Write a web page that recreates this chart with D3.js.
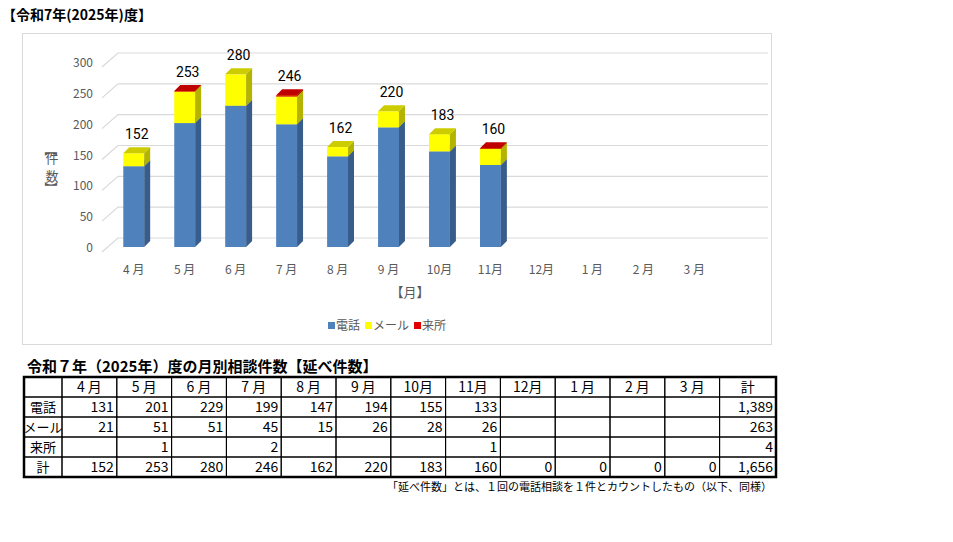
<!DOCTYPE html>
<html><head><meta charset="utf-8">
<script src="https://cdn.jsdelivr.net/npm/d3@7"></script>
<style>body{margin:0;background:#fff;font-family:"Noto Sans CJK JP",sans-serif}</style>
</head><body>
<svg id="c" width="953" height="542"></svg>
<script>
// data
const months = ["4月","5月","6月","7月","8月","9月","10月","11月","12月","1月","2月","3月"];
const tel = [131,201,229,199,147,194,155,133,null,null,null,null];
const mail = [21,51,51,45,15,26,28,26,null,null,null,null];
const visit = [null,1,null,2,null,null,null,1,null,null,null,null];
const totals = [152,253,280,246,162,220,183,160,0,0,0,0];
const sums = ["1,389","263","4","1,656"];
const yTicks = [0,50,100,150,200,250,300];
const seriesNames = ["電話","メール","来所"];
const colors = [["#4f81bd","#385d8a","#4f81bd"],["#ffff00","#b3b300","#cccc00"],["#e00000","#a00000","#c00000"]];

const svg = d3.select("#c");
const F = "Noto Sans CJK JP";

svg.append("text").attr("x",2).attr("y",20).attr("font-size",14).attr("font-weight","bold")
  .attr("font-family",F).text("【令和7年(2025年)度】");

svg.append("rect").attr("x",22.5).attr("y",33.5).attr("width",749).attr("height",311)
  .attr("fill","#fff").attr("stroke","#d9d9d9");

const x = d3.scaleBand().domain(months).range([108,720]).paddingInner(0.59).paddingOuter(0.3);
const y = d3.scaleLinear().domain([0,300]).range([247,62]);
const dx = 6, dy = 6;

// grid (back wall with perspective)
yTicks.forEach(v => {
  const yy = y(v);
  svg.append("path").attr("d",`M102,${yy+5}L118,${yy-9}L768,${yy-9}`)
    .attr("fill","none").attr("stroke","#d9d9d9").attr("stroke-width",1.2);
  svg.append("text").attr("x",93).attr("y",yy+5).attr("text-anchor","end")
    .attr("font-size",12).attr("fill","#595959").attr("font-family",F).text(v);
});

// bars
const layers = [tel, mail, visit];
months.forEach((m,i) => {
  let base = 0;
  const x0 = x(m), w = x.bandwidth();
  layers.forEach((s,k) => {
    const v = s[i] || 0;
    if (!v) return;
    const yt = y(base+v), yb = y(base);
    const g = svg.append("g");
    g.append("rect").attr("x",x0).attr("y",yt).attr("width",w).attr("height",yb-yt).attr("fill",colors[k][0]);
    g.append("path").attr("d",`M${x0+w},${yt}L${x0+w+dx},${yt-dy}L${x0+w+dx},${yb-dy}L${x0+w},${yb}Z`).attr("fill",colors[k][1]);
    g.append("path").attr("d",`M${x0},${yt}L${x0+dx},${yt-dy}L${x0+w+dx},${yt-dy}L${x0+w},${yt}Z`).attr("fill",colors[k][2]);
    base += v;
  });
  if (totals[i] > 0) {
    svg.append("text").attr("x",x0+w/2+3).attr("y",y(totals[i])-14).attr("text-anchor","middle")
      .attr("font-size",14).attr("font-family","Liberation Sans Narrow, Roboto").text(totals[i]);
  }
  svg.append("text").attr("x",x0+w/2).attr("y",274).attr("text-anchor","middle")
    .attr("font-size",12).attr("fill","#595959").attr("font-family",F)
    .text(m.replace(/^(\d)月/,"$1 月"));
});

svg.append("text").attr("x",410).attr("y",297).attr("text-anchor","middle").attr("font-size",13)
  .attr("fill","#595959").attr("font-family",F).text("【月】");
// vertical axis title
svg.append("text").attr("transform","translate(46,150) rotate(90)").attr("font-size",13)
  .attr("fill","#595959").attr("font-family",F).attr("text-anchor","middle").text("【");
svg.append("text").attr("x",52).attr("y",163).attr("text-anchor","middle").attr("font-size",13)
  .attr("fill","#595959").attr("font-family",F).text("件");
svg.append("text").attr("x",52).attr("y",181).attr("text-anchor","middle").attr("font-size",13)
  .attr("fill","#595959").attr("font-family",F).text("数");
svg.append("text").attr("transform","translate(46,188) rotate(90)").attr("font-size",13)
  .attr("fill","#595959").attr("font-family",F).attr("text-anchor","middle").text("】");

// legend
let lx = 328;
seriesNames.forEach((n,k)=>{
  svg.append("rect").attr("x",lx).attr("y",322).attr("width",7).attr("height",7).attr("fill",colors[k][0]);
  const t = svg.append("text").attr("x",lx+8).attr("y",330).attr("font-size",12).attr("fill","#595959")
    .attr("font-family",F).text(n);
  lx += 8 + t.node().getComputedTextLength() + 5;
});

// table
svg.append("text").attr("x",27).attr("y",372).attr("font-size",15).attr("font-family",F).attr("font-weight","bold")
  .text("令和７年（2025年）度の月別相談件数【延べ件数】");
const tx0 = 24, c1 = 62, cw = 54.8, ty0 = 377, rh = 20;
const rows = [["", ...months.map(m=>m.replace(/^(\d)月/,"$1 月")), "計"],
  ["電話", ...tel, sums[0]], ["メール", ...mail, sums[1]], ["来所", ...visit, sums[2]], ["計", ...totals, sums[3]]];
const colX = [tx0, c1, ...months.map((_,i)=>c1+cw*(i+1)), 776];
rows.forEach((r,ri)=>{
  r.forEach((v,ci)=>{
    const xa = colX[ci], xb = colX[ci+1], yy = ty0+ri*rh;
    svg.append("rect").attr("x",xa).attr("y",yy).attr("width",xb-xa).attr("height",rh)
      .attr("fill","none").attr("stroke","#000").attr("stroke-width",1);
    if (v === null || v === "") return;
    const hdr = ri===0 || ci===0;
    svg.append("text").attr("x",hdr?(xa+xb)/2:xb-3).attr("y",yy+15)
      .attr("text-anchor",hdr?"middle":"end").attr("font-size",ci===0?13:14).attr("font-family",F).text(v);
  });
});
svg.append("rect").attr("x",tx0).attr("y",ty0).attr("width",776-tx0).attr("height",rh*5)
  .attr("fill","none").attr("stroke","#000").attr("stroke-width",2.5);
svg.append("text").attr("x",772).attr("y",491).attr("text-anchor","end").attr("font-size",11).attr("font-family",F)
  .text("「延べ件数」とは、１回の電話相談を１件とカウントしたもの（以下、同様）");
</script>
</body></html>
